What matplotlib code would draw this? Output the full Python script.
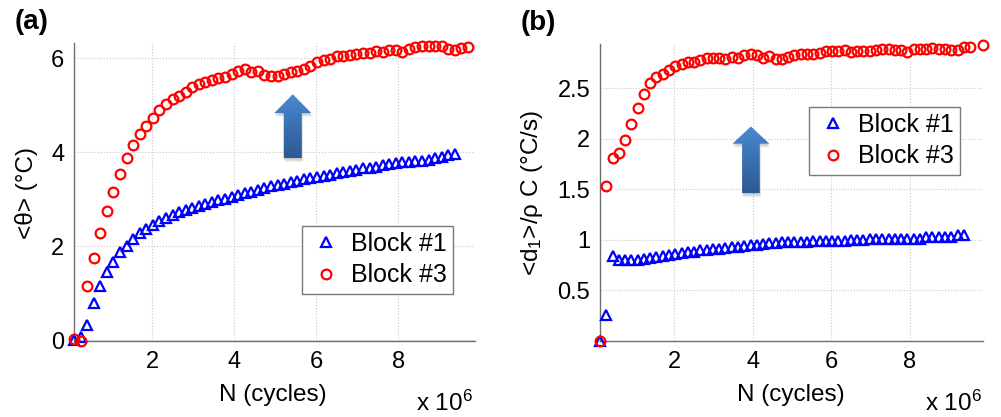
import numpy as np
import matplotlib
matplotlib.use('Agg')
import matplotlib.pyplot as plt
from matplotlib.patches import Polygon
from matplotlib.colors import LinearSegmentedColormap

plt.rcParams['font.family'] = ['Liberation Sans', 'DejaVu Sans']
plt.rcParams['mathtext.fontset'] = 'custom'
plt.rcParams['mathtext.rm'] = 'Liberation Sans'
plt.rcParams['mathtext.it'] = 'Liberation Sans:italic'

# 循环次数 (x 10^6)
cycles = [0.10, 0.26, 0.42, 0.58, 0.74, 0.90, 1.06, 1.22, 1.38, 1.54,
          1.70, 1.86, 2.02, 2.18, 2.34, 2.50, 2.66, 2.82, 2.98, 3.14,
          3.30, 3.46, 3.62, 3.78, 3.94, 4.10, 4.26, 4.42, 4.58, 4.74,
          4.90, 5.06, 5.22, 5.38, 5.54, 5.70, 5.86, 6.02, 6.18, 6.34,
          6.50, 6.66, 6.82, 6.98, 7.14, 7.30, 7.46, 7.62, 7.78, 7.94,
          8.10, 8.26, 8.42, 8.58, 8.74, 8.90, 9.06, 9.22, 9.38, 9.54,
          9.70, 9.86]

# (a) 平均温升 <theta>
theta_blk1 = [0.00, 0.06, 0.33, 0.78, 1.15, 1.44, 1.67, 1.87, 2.01, 2.14,
              2.27, 2.36, 2.45, 2.53, 2.60, 2.67, 2.72, 2.77, 2.82, 2.86,
              2.89, 2.94, 2.98, 3.01, 3.05, 3.08, 3.12, 3.16, 3.20, 3.24,
              3.27, 3.30, 3.33, 3.36, 3.39, 3.42, 3.45, 3.47, 3.50, 3.52,
              3.55, 3.57, 3.60, 3.62, 3.65, 3.67, 3.69, 3.72, 3.74, 3.76,
              3.78, 3.79, 3.81, 3.81, 3.84, 3.87, 3.89, 3.93, 3.96]
theta_blk3 = [0.02, -0.03, 1.15, 1.75, 2.28, 2.74, 3.16, 3.54, 3.88, 4.14,
              4.38, 4.55, 4.73, 4.90, 5.02, 5.12, 5.19, 5.28, 5.38, 5.44,
              5.48, 5.53, 5.58, 5.60, 5.66, 5.72, 5.76, 5.71, 5.72, 5.64,
              5.61, 5.62, 5.67, 5.70, 5.73, 5.77, 5.83, 5.91, 5.96, 5.99,
              6.04, 6.05, 6.06, 6.08, 6.10, 6.11, 6.14, 6.13, 6.17, 6.17,
              6.13, 6.19, 6.23, 6.26, 6.26, 6.26, 6.26, 6.19, 6.18, 6.22,
              6.24]

# (b) 耗散 <d1>/rho C
d1_blk1 = [0.00, 0.26, 0.84, 0.80, 0.80, 0.80, 0.80, 0.81, 0.82, 0.83,
           0.84, 0.85, 0.86, 0.87, 0.88, 0.88, 0.90, 0.90, 0.91, 0.91,
           0.92, 0.93, 0.93, 0.94, 0.95, 0.95, 0.96, 0.97, 0.97, 0.98,
           0.98, 0.98, 0.98, 0.98, 0.99, 0.99, 0.99, 0.99, 0.99, 0.99,
           1.00, 1.00, 1.00, 1.01, 1.01, 1.01, 1.01, 1.01, 1.01, 1.01,
           1.01, 1.01, 1.03, 1.03, 1.03, 1.03, 1.03, 1.05, 1.05]
d1_blk3 = [0.00, 1.53, 1.81, 1.86, 1.99, 2.14, 2.30, 2.44, 2.55, 2.61,
           2.64, 2.68, 2.72, 2.74, 2.76, 2.76, 2.78, 2.80, 2.80, 2.80,
           2.79, 2.81, 2.80, 2.83, 2.84, 2.83, 2.80, 2.82, 2.79, 2.79,
           2.81, 2.83, 2.84, 2.84, 2.84, 2.85, 2.87, 2.87, 2.87, 2.88,
           2.86, 2.87, 2.87, 2.87, 2.88, 2.89, 2.89, 2.88, 2.88, 2.86,
           2.89, 2.89, 2.89, 2.90, 2.89, 2.89, 2.88, 2.88, 2.91, 2.91,
           np.nan, 2.93]

xticks = [2, 4, 6, 8]
yticks_a = [0, 2, 4, 6]
yticks_b = [0.5, 1, 1.5, 2, 2.5]
yticklabels_b = ['0.5', '1', '1.5', '2', '2.5']
labels = ['Block #1', 'Block #3']

W, H = 1001, 417
fig = plt.figure(figsize=(W / 100, H / 100), dpi=100)

axa = fig.add_axes([74 / W, 1 - 341 / H, 401 / W, 298 / H])
axb = fig.add_axes([600 / W, 1 - 341 / H, 383 / W, 297 / H])

arrow_cmap = LinearSegmentedColormap.from_list('arr', ['#2c5a92', '#3a70b2', '#4a8ad0'])


def draw_arrow(ax, xc, y0, y1, yh, hw, sw):
    # 带渐变色的向上箭头
    pts = [(xc - sw, y0), (xc + sw, y0), (xc + sw, yh), (xc + hw, yh),
           (xc, y1), (xc - hw, yh), (xc - sw, yh)]
    dy = (y1 - y0) * 0.03
    for k in range(4):
        sh = Polygon([(px + 0.01 * k, py - dy * (k + 1) * 0.5) for px, py in pts],
                     closed=True, facecolor='#000000', edgecolor='none',
                     alpha=0.06, zorder=1)
        ax.add_patch(sh)
    poly = Polygon(pts, closed=True, facecolor='none', edgecolor='none', zorder=2)
    ax.add_patch(poly)
    grad = np.linspace(0, 1, 100).reshape(-1, 1)
    im = ax.imshow(grad, extent=[xc - hw, xc + hw, y0, y1], origin='lower',
                   aspect='auto', cmap=arrow_cmap, zorder=2)
    im.set_clip_path(poly)


def style_axes(ax):
    for s in ['top', 'right']:
        ax.spines[s].set_visible(False)
    for s in ['left', 'bottom']:
        ax.spines[s].set_color('#6e6e6e')
        ax.spines[s].set_linewidth(1.0)
    ax.grid(True, color='#c8c8c8', linestyle=':', linewidth=0.8)
    ax.set_axisbelow(True)
    ax.tick_params(length=0, labelsize=17, pad=7)
    ax.set_xticks(xticks)
    ax.set_xlim(0.1, 9.87)


mk = dict(linestyle='none', markerfacecolor='none', markeredgewidth=1.6, clip_on=False)
leg_kw = dict(loc='upper left', borderaxespad=0, fontsize=18, fancybox=False,
              edgecolor='#7a7a7a', framealpha=1, borderpad=0.25, handlelength=1.4,
              handletextpad=0.3, labelspacing=0.3)

# (a)
draw_arrow(axa, 5.43, 3.87, 5.23, 4.83, 0.45, 0.22)
axa.plot(cycles[:len(theta_blk1)], theta_blk1, marker='^', color='#0000ff',
         markersize=6.5, label=labels[0], zorder=3, **mk)
axa.plot(cycles[:len(theta_blk3)], theta_blk3, marker='o', color='#ff0000',
         markersize=7, label=labels[1], zorder=3, **mk)
style_axes(axa)
axa.set_yticks(yticks_a)
axa.set_ylim(-0.02, 6.32)
axa.legend(bbox_to_anchor=(0.569, 0.387), **leg_kw)

# (b)
draw_arrow(axb, 3.95, 1.46, 2.12, 1.95, 0.47, 0.225)
axb.plot(cycles[:len(d1_blk1)], d1_blk1, marker='^', color='#0000ff',
         markersize=6.5, label=labels[0], zorder=3, **mk)
axb.plot(cycles[:len(d1_blk3)], d1_blk3, marker='o', color='#ff0000',
         markersize=7, label=labels[1], zorder=3, **mk)
style_axes(axb)
axb.set_yticks(yticks_b)
axb.set_yticklabels(yticklabels_b)
axb.set_ylim(0, 2.935)
axb.legend(bbox_to_anchor=(0.546, 0.789), **leg_kw)

# 坐标轴标题和面板标记
fig.text(273 / W, 1 - 401 / H, 'N (cycles)', fontsize=17.5, ha='center', va='baseline')
fig.text(791 / W, 1 - 401 / H, 'N (cycles)', fontsize=17.5, ha='center', va='baseline')
fig.text(26 / W, 1 - 193 / H, '<θ> (°C)', fontsize=17.5, rotation=90, ha='center', va='center')
fig.text(532 / W, 1 - 193 / H, '<d$_1$>/ρ C (°C/s)', fontsize=17.5, rotation=90,
         ha='center', va='center')
fig.text(473 / W, 1 - 411 / H, 'x 10$^6$', fontsize=17.5, ha='right', va='baseline')
fig.text(982 / W, 1 - 411 / H, 'x 10$^6$', fontsize=17.5, ha='right', va='baseline')
fig.text(32 / W, 1 - 22 / H, '(a)', fontsize=20, fontweight='bold', ha='center', va='center')
fig.text(538 / W, 1 - 23 / H, '(b)', fontsize=20, fontweight='bold', ha='center', va='center')

fig.savefig('out.png', dpi=100)
